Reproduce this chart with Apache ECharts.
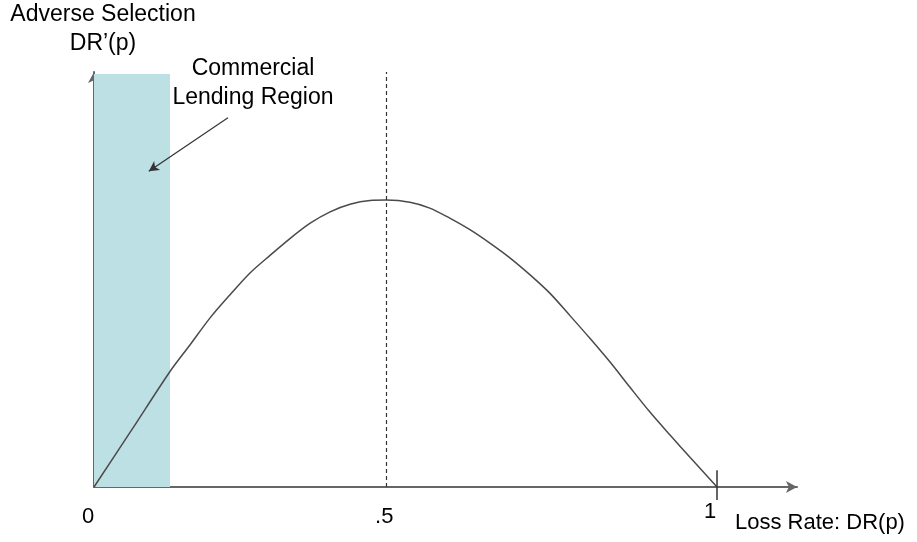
<!DOCTYPE html>
<html>
<head>
<meta charset="utf-8">
<script src="https://cdn.jsdelivr.net/npm/echarts@6/dist/echarts.min.js"></script>
<style>html,body{margin:0;padding:0;background:#fff}#c{width:917px;height:542px}</style>
</head>
<body>
<div id="c"></div>
<script>
// Curve: loss rate DR(p) (x) vs adverse selection DR'(p) (y)
const curveX = [0, 0.061, 0.122, 0.154, 0.186, 0.218, 0.250, 0.283, 0.315, 0.347, 0.379, 0.411, 0.443, 0.469,
                0.507, 0.539, 0.571, 0.604, 0.636, 0.668, 0.700, 0.732, 0.764, 0.796, 0.828, 0.860, 0.892, 0.925, 0.957, 1.0];
const curveY = [0, 0.137, 0.275, 0.338, 0.402, 0.457, 0.509, 0.552, 0.592, 0.628, 0.655, 0.673, 0.682, 0.683,
                0.678, 0.664, 0.640, 0.612, 0.580, 0.545, 0.505, 0.461, 0.408, 0.354, 0.298, 0.238, 0.179, 0.123, 0.070, 0];
// Tick positions and labels on the loss-rate axis
const tickValues = [0, 0.469, 1];
const tickLabels = ['0', '.5', '1'];
// Commercial lending region (x from, x to, y top)
const regionX = [0, 0.122];
const regionTop = 0.983;
// Peak marker (dashed vertical line)
const peakX = 0.469;
// Annotation arrow: start and end points (data units)
const arrowFrom = [0.215, 0.879];
const arrowTo = [0.088, 0.752];
const yMax = 0.988;
const xMax = 1.1284;

const chart = echarts.init(document.getElementById('c'));
const font = 'Liberation Sans, Arial, sans-serif';
const labelStyles = ['l0', 'l5', 'l1'];
chart.setOption({
  animation: false,
  grid: { left: 94, right: 120, top: 72, bottom: 55, containLabel: false, outerBoundsMode: 'none' },
  xAxis: {
    type: 'value', min: 0, max: xMax,
    axisLine: { show: true, lineStyle: { color: '#666', width: 2 }, symbol: ['none', 'arrow'], symbolSize: [9, 11] },
    axisTick: { show: true, customValues: [1], length: 13, lineStyle: { color: '#333', width: 1.5 } },
    splitLine: { show: false },
    axisLabel: {
      customValues: tickValues,
      margin: 30,
      verticalAlign: 'middle',
      fontSize: 22, fontFamily: font, color: '#000',
      formatter: function (v) {
        const i = tickValues.findIndex(t => Math.abs(t - v) < 1e-6);
        return i >= 0 ? '{' + labelStyles[i] + '|' + tickLabels[i] + '}' : '';
      },
      rich: {
        l0: { fontSize: 22, fontFamily: font, color: '#000', padding: [0, 12, 0, 0] },
        l5: { fontSize: 22, fontFamily: font, color: '#000', padding: [0, 4, 0, 0] },
        l1: { fontSize: 22, fontFamily: font, color: '#000', padding: [0, 14, 10, 0] }
      }
    },
    name: 'Loss Rate: DR(p)',
    nameLocation: 'end',
    nameGap: -62,
    nameTextStyle: { fontSize: 22, fontFamily: font, color: '#000', align: 'left', verticalAlign: 'top', padding: [25, 0, 0, 0] }
  },
  yAxis: {
    type: 'value', min: 0, max: yMax,
    axisLine: { show: true, lineStyle: { color: '#666', width: 2 }, symbol: ['none', 'arrow'], symbolSize: [9, 11] },
    axisTick: { show: false },
    axisLabel: { show: false },
    splitLine: { show: false },
    name: 'Adverse Selection\nDR’(p)',
    nameLocation: 'end',
    nameGap: 14,
    nameTextStyle: { fontSize: 23, fontFamily: font, color: '#000', align: 'center', lineHeight: 29, padding: [0, 0, 0, 18] }
  },
  series: [
    {
      type: 'line',
      data: [],
      markArea: {
        silent: true,
        itemStyle: { color: '#bde0e4' },
        data: [[{ coord: [regionX[0], 0] }, { coord: [regionX[1], regionTop] }]]
      },
      z: 1
    },
    {
      type: 'line',
      data: curveX.map((x, i) => [x, curveY[i]]),
      smooth: 0.3,
      showSymbol: false,
      lineStyle: { color: '#4a4a4a', width: 1.5 },
      clip: false,
      z: 3,
      markLine: {
        silent: true,
        symbol: ['none', 'none'],
        label: { show: false },
        data: [
          [{ coord: [peakX, 0], lineStyle: { type: [4, 3], color: '#333', width: 1.2 } }, { coord: [peakX, yMax] }],
          [{ coord: [1, 0], lineStyle: { type: 'solid', color: '#333', width: 1.5 } }, { coord: [1, 0.04] }]
        ]
      }
    },
    {
      type: 'line',
      data: [],
      clip: false,
      z: 4,
      markLine: {
        silent: true,
        symbol: ['none', 'arrow'],
        symbolSize: [8, 10],
        label: { show: false },
        lineStyle: { type: 'solid', color: '#333', width: 1.2 },
        data: [[{ coord: arrowFrom }, { coord: arrowTo }]]
      }
    }
  ],
  graphic: [
    {
      type: 'text', x: 253, y: 54,
      style: { text: 'Commercial\nLending Region', font: '23px ' + font, fill: '#000', align: 'center', verticalAlign: 'top', lineHeight: 29 }
    }
  ]
});
</script>
</body>
</html>
